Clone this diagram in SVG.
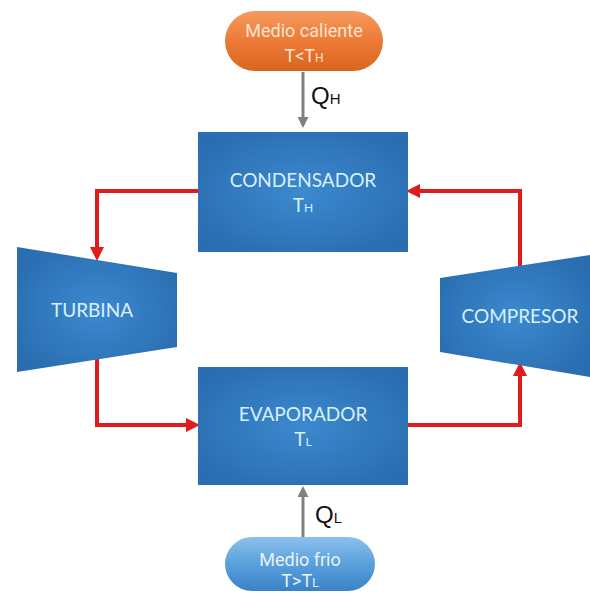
<svg xmlns="http://www.w3.org/2000/svg" width="590" height="593" viewBox="0 0 590 593">
<defs>
<radialGradient id="blueG" cx="50%" cy="50%" r="60%">
<stop offset="0" stop-color="#3c89cf"/>
<stop offset="1" stop-color="#2a6db0"/>
</radialGradient>
<linearGradient id="orangeG" x1="0" y1="0" x2="0" y2="1">
<stop offset="0" stop-color="#f59a5e"/>
<stop offset="0.5" stop-color="#ec7a36"/>
<stop offset="1" stop-color="#d9641f"/>
</linearGradient>
<linearGradient id="pillBlueG" x1="0" y1="0" x2="0" y2="1">
<stop offset="0" stop-color="#8cc0ec"/>
<stop offset="0.5" stop-color="#5aa0dc"/>
<stop offset="1" stop-color="#3a82c8"/>
</linearGradient>
<marker id="redArrow" markerWidth="14" markerHeight="14" refX="10" refY="7" orient="auto" markerUnits="userSpaceOnUse" viewBox="0 0 14 14">
<path d="M0,0 L14,7 L0,14 Z" fill="#e01b1b"/>
</marker>
<marker id="grayArrow" markerWidth="11" markerHeight="11" refX="8" refY="5.5" orient="auto" markerUnits="userSpaceOnUse" viewBox="0 0 11 11">
<path d="M0,0 L11,5.5 L0,11 Z" fill="#808080"/>
</marker>
</defs>
<style>
.box{fill:url(#blueG);}
.lbl{font-family:Lato,"Liberation Sans",sans-serif;font-size:19px;fill:#d8f0ff;text-anchor:middle;}
.sub{font-size:12px;}
.pl{font-family:Roboto,"Liberation Sans",sans-serif;font-size:18px;text-anchor:middle;}
.red{fill:none;stroke:#e01b1b;stroke-width:4;marker-end:url(#redArrow);}
.gray{fill:none;stroke:#808080;stroke-width:3;marker-end:url(#grayArrow);}
.q{font-family:"Liberation Sans",Arial,sans-serif;font-size:24px;fill:#111;}
.qs{font-size:15px;}
</style>
<rect width="590" height="593" fill="#ffffff"/>

<g id="connectors">
<path class="gray" d="M303,72 L303,125"/>
<path class="gray" d="M303,538 L303,489"/>
<path class="red" d="M198,191 L97,191 L97,257"/>
<path class="red" d="M97,357 L97,425 L196,425"/>
<path class="red" d="M408,425 L520,425 L520,366"/>
<path class="red" d="M520,266 L520,191 L410,191"/>
</g>

<g id="medio-caliente">
<rect x="225" y="11" width="158" height="60" rx="30" fill="url(#orangeG)"/>
<text class="pl" x="304" y="37" fill="#fde4d0">Medio caliente</text>
<text class="pl" x="304" y="62" fill="#fde4d0">T&lt;T<tspan class="sub">H</tspan></text>
</g>

<g id="qh-label">
<text class="q" x="311" y="104">Q<tspan class="qs">H</tspan></text>
</g>

<g id="condensador">
<rect class="box" x="198" y="132" width="210" height="120"/>
<text class="lbl" x="303" y="187">CONDENSADOR</text>
<text class="lbl" x="303" y="212">T<tspan class="sub">H</tspan></text>
</g>

<g id="turbina">
<polygon class="box" points="17,247 177,273 177,347 17,372"/>
<text class="lbl" x="92" y="317">TURBINA</text>
</g>

<g id="compresor">
<polygon class="box" points="440,278 590,255 590,377 440,352"/>
<text class="lbl" x="520" y="323">COMPRESOR</text>
</g>

<g id="evaporador">
<rect class="box" x="198" y="367" width="210" height="118"/>
<text class="lbl" x="303" y="421">EVAPORADOR</text>
<text class="lbl" x="303" y="446">T<tspan class="sub">L</tspan></text>
</g>

<g id="ql-label">
<text class="q" x="315" y="523">Q<tspan class="qs">L</tspan></text>
</g>

<g id="medio-frio">
<rect x="225" y="537" width="150" height="54" rx="27" fill="url(#pillBlueG)"/>
<text class="pl" x="300" y="566" fill="#e6f3ff">Medio frio</text>
<text class="pl" x="300" y="587" fill="#e6f3ff">T&gt;T<tspan class="sub">L</tspan></text>
</g>
</svg>
